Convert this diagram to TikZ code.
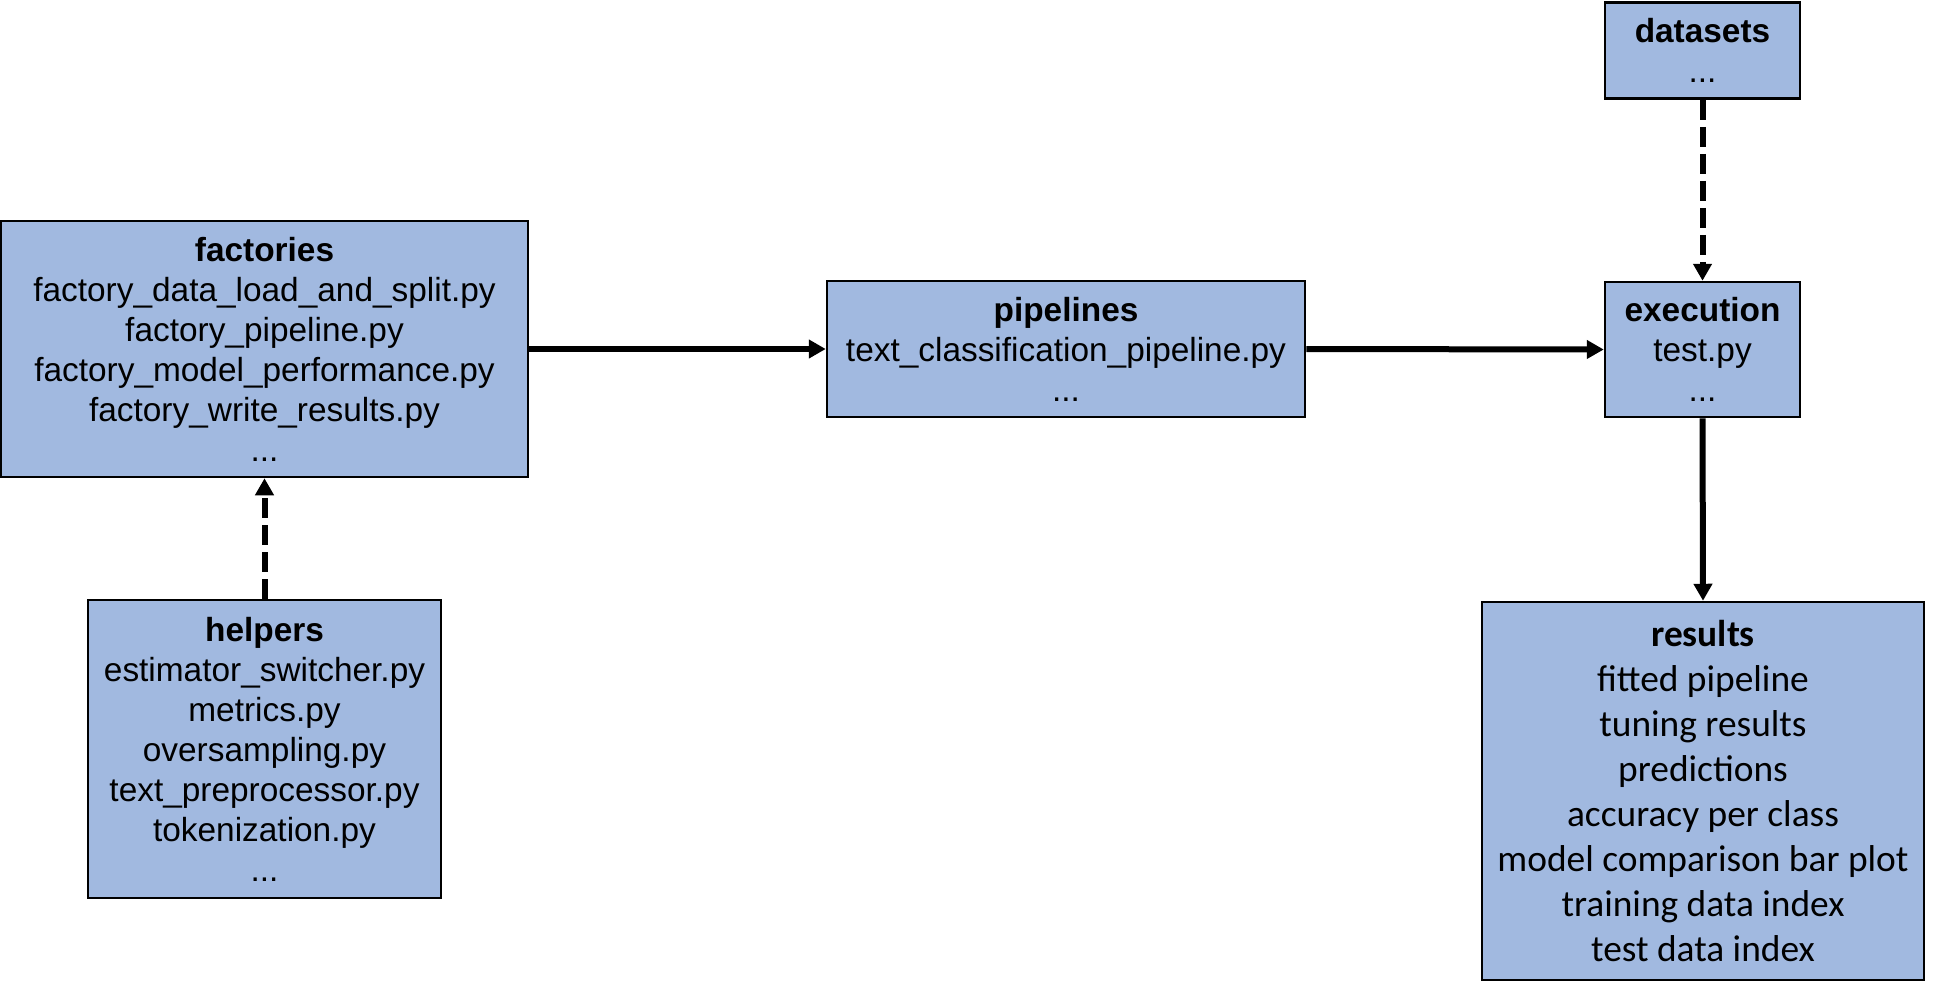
\documentclass[tikz,border=0pt]{standalone}
\usepackage{fontspec}
\setmainfont{Liberation Sans}
\newfontfamily\calibri{Carlito}
\usetikzlibrary{arrows.meta}
\definecolor{boxblue}{RGB}{161,185,224}
\tikzset{
  box/.style={draw=black, line width=1.25pt, fill=boxblue, align=center, inner sep=0pt,
    font=\fontsize{16.7}{20}\selectfont},
  resbox/.style={box, font=\calibri\fontsize{18.7}{22.5}\selectfont},
  conn/.style={line width=3pt, -{Triangle[length=8.5pt,width=9pt]}},
  dconn/.style={conn, dash pattern=on 10pt off 3.5pt}
}
\begin{document}
\begin{tikzpicture}[x=0.5pt,y=-0.5pt]
\useasboundingbox (0,0) rectangle (1933,992);
\node[box, minimum width=263.5pt, minimum height=128pt] (fac) at (264.5,349)
  {\textbf{factories}\\factory\_data\_load\_and\_split.py\\factory\_pipeline.py\\factory\_model\_performance.py\\factory\_write\_results.py\\...};
\node[box, minimum width=239pt, minimum height=68pt] (pip) at (1066,349)
  {\textbf{pipelines}\\text\_classification\_pipeline.py\\...};
\node[box, minimum width=97.5pt, minimum height=67.5pt] (exe) at (1702.5,349.5)
  {\textbf{execution}\\test.py\\...};
\node[box, minimum width=97.5pt, minimum height=48pt] (dat) at (1702.5,50.5)
  {\textbf{datasets}\\...};
\node[box, minimum width=176.5pt, minimum height=149pt] (hel) at (264.5,749)
  {\textbf{helpers}\\estimator\_switcher.py\\metrics.py\\oversampling.py\\text\_preprocessor.py\\tokenization.py\\...};
\node[resbox, minimum width=221pt, minimum height=189pt] (res) at (1703,791)
  {\textbf{results}\\fitted pipeline\\tuning results\\predictions\\accuracy per class\\model comparison bar plot\\training data index\\test data index};
\draw[conn] (fac.east) -- (pip.west);
\draw[conn] (pip.east) -- (exe.west);
\draw[conn] (exe.south) -- (res.north);
\draw[dconn] (dat.south) -- (exe.north);
\draw[dconn] (hel.north) -- (fac.south);
\end{tikzpicture}
\end{document}
